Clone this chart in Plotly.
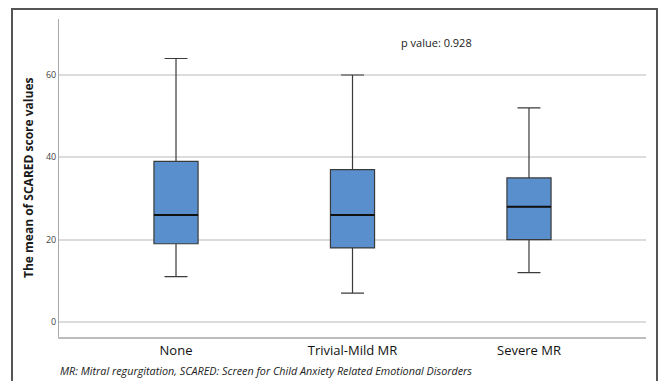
import plotly.graph_objects as go

categories = ["None", "Trivial-Mild MR", "Severe MR"]
lower_whisker = [11, 7, 12]
q1 = [19, 18, 20]
median = [26, 26, 28]
q3 = [39, 37, 35]
upper_whisker = [64, 60, 52]
y_ticks = [0, 20, 40, 60]
p_value_text = "p value: 0.928"
footnote = "MR: Mitral regurgitation, SCARED: Screen for Child Anxiety Related Emotional Disorders"
y_title = "The mean of SCARED score values"

FONT = "Open Sans"
BOX_W = 0.25

fig = go.Figure()
fig.add_trace(go.Box(
    x=categories,
    q1=q1, median=median, q3=q3,
    lowerfence=lower_whisker, upperfence=upper_whisker,
    width=BOX_W,
    whiskerwidth=0.52,
    fillcolor="#5a8fcd",
    line=dict(color="#3a3a3a", width=1.2),
    boxpoints=False,
    hoverinfo="skip",
    showlegend=False,
))

# darker median lines
for i, m in enumerate(median):
    fig.add_shape(type="line", xref="x", yref="y",
                  x0=i - BOX_W / 2, x1=i + BOX_W / 2, y0=m, y1=m,
                  line=dict(color="#111111", width=2))

fig.update_layout(
    width=658, height=381,
    margin=dict(l=59, r=12, t=19, b=44),
    paper_bgcolor="white", plot_bgcolor="white",
    font=dict(family=FONT, color="#222222"),
    xaxis=dict(
        type="category",
        range=[-0.663, 2.663],
        showgrid=False,
        showline=True, linecolor="#bdbdbd", linewidth=2,
        ticks="", tickfont=dict(size=13, color="#111111", family=FONT),
        zeroline=False,
    ),
    yaxis=dict(
        range=[-3.65, 73.6],
        tickvals=y_ticks,
        showgrid=True, gridcolor="#dcdcdc", gridwidth=1.5,
        showline=True, linecolor="#a8a8a8", linewidth=1,
        ticks="", tickfont=dict(size=9, color="#444444", family=FONT),
        zeroline=False,
    ),
)

fig.add_annotation(text="<b>" + y_title + "</b>", xref="paper", yref="paper",
                   x=(28 - 59) / 587, y=0.5, textangle=-90, showarrow=False,
                   font=dict(size=12, color="#1a1a1a", family=FONT),
                   xanchor="center", yanchor="middle")
fig.add_annotation(text=p_value_text, xref="paper", yref="paper",
                   x=(437 - 59) / 587, y=(337 - 43) / 318, showarrow=False,
                   font=dict(size=11, color="#1a1a1a", family=FONT),
                   xanchor="center", yanchor="middle")
fig.add_annotation(text="<i>" + footnote + "</i>", xref="paper", yref="paper",
                   x=(58 - 59) / 587, y=(337 - 370) / 318, showarrow=False,
                   font=dict(size=10.8, color="#222222", family=FONT),
                   xanchor="left", yanchor="middle")

# outer frame
fig.add_shape(type="rect", xref="paper", yref="paper",
              x0=(12 - 59) / 587, x1=(657 - 59) / 587,
              y0=(337 - 400) / 318, y1=(337 - 9) / 318,
              line=dict(color="#555555", width=2), layer="above")

fig.write_html("out.html")
